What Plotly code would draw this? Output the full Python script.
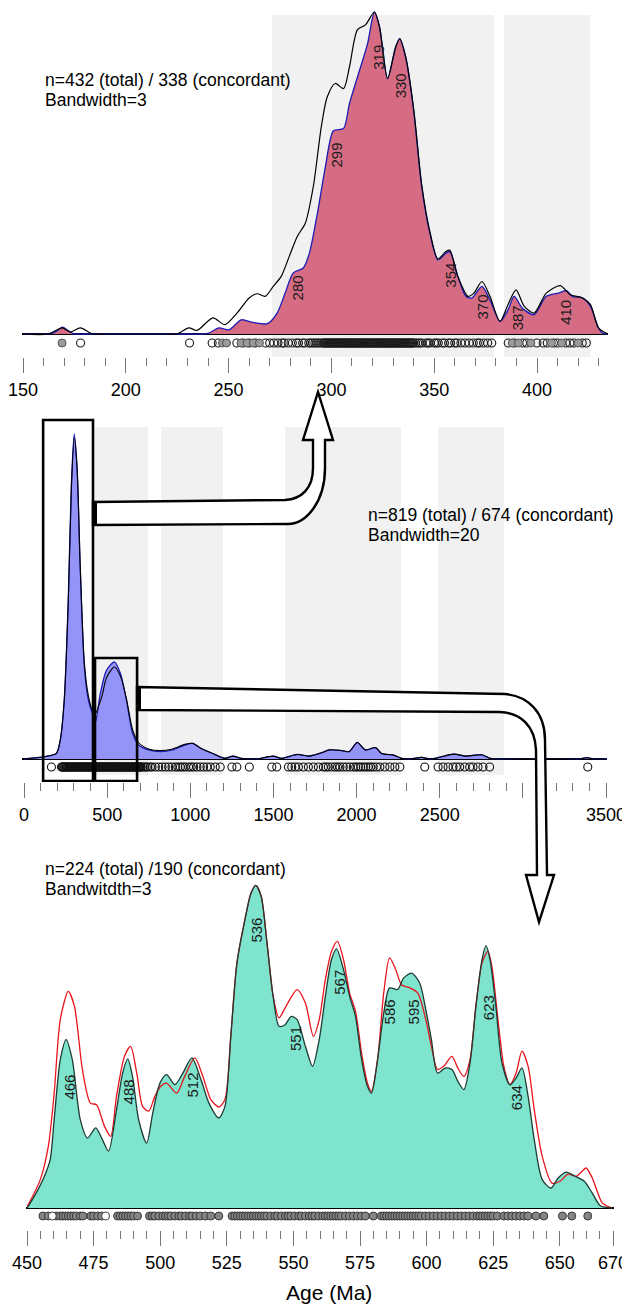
import plotly.graph_objects as go

PAGE_W, PAGE_H = 630, 1307
OFF = 8  # the page body margin shifts the figure by this much
W, H = PAGE_W - OFF, PAGE_H - OFF
FONT = "Arial, Liberation Sans, sans-serif"

# ---------------- Panel 1: 150-430 Ma, bandwidth 3 ----------------
p1_conc_age = [150, 162.3, 166.2, 169.1, 172.1, 175, 180, 200, 230, 236.5, 240.4, 245.3, 250.2, 256.1,
               261.9, 268.8, 273.6, 277.5, 281.4, 286.3, 289.3, 293.2, 297.1, 301, 305.9, 308.8, 313.7,
               317.6, 320.9, 323.4, 327.3, 331.3, 333.2, 336.1, 340, 343.9, 347.9, 351.8, 355.7, 357.6,
               361.5, 365.4, 368.4, 373.2, 377.1, 382, 385.9, 388.9, 392.8, 398.6, 404.5, 410.4, 414.3,
               417.2, 422.1, 426, 429.9, 431.8, 434.5]
p1_conc_val = [0, 0, 0.8, 2.1, 1.0, 0, 0, 0, 0, 0, 0.3, 1.9, 1.3, 4.4,
               3.6, 3.2, 6.5, 12.7, 18.9, 20.5, 25.1, 37.5, 52.0, 63.1, 63.8, 71.6, 81.9,
               90.2, 100, 95.4, 79.3, 89.2, 91.7, 86.1, 69.5, 45.8, 31.3, 23.0, 25.1, 25.6,
               17.9, 11.7, 11.2, 14.8, 10.6, 3.9, 7.5, 11.7, 8.1, 6.0, 11.7, 12.7, 13.5,
               11.7, 11.2, 8.6, 1.9, 0.3, 0]
p1_total_age = [150, 162.3, 169.1, 173, 177.9, 183.8, 190, 205, 219, 224.8, 230.7, 234.6, 242.4, 248.2,
                254.1, 260, 263.9, 267.8, 271.7, 275.6, 279.5, 283.4, 287.3, 291.2, 295.1, 298, 301.9,
                305.9, 308.8, 312.7, 316.6, 320.9, 323.4, 327.3, 331.3, 333.2, 336.1, 340, 343.9, 347.9,
                351.8, 355.7, 357.6, 361.5, 366.4, 369.3, 373.2, 377.1, 382, 385.9, 389.8, 393.8, 398.6,
                404.5, 411.3, 416.2, 422.1, 426, 429.9, 434.5]
p1_total_val = [0, 0, 1.9, 0.6, 1.9, 0, 0, 0, 0, 0, 1.9, 1.1, 5.0, 2.9,
                6.5, 11.2, 12.5, 11.7, 14.8, 17.9, 24.1, 30.3, 34.4, 45.8, 64.4, 73.7, 77.8,
                76.2, 83.0, 94.5, 96.0, 100, 95.4, 79.3, 89.2, 91.7, 86.1, 70.0, 46.5, 31.8,
                23.3, 25.6, 26.0, 17.9, 11.7, 12.7, 16.3, 11.7, 3.9, 9.1, 13.7, 8.6, 6.5,
                12.7, 15.0, 12.2, 11.2, 9.1, 1.9, 0]
p1_peaks = [280, 299, 319, 330, 354, 370, 387, 410]
p1_peak_label_h = [14.3, 55.6, 86, 77, 18.3, 8.4, 5, 6.8]
p1_bands = [(271, 379), (384, 426)]
p1_rug_filled = [169, 247, 249, 256, 259, 262, 265, 388, 391, 397, 407, 412, 420]
p1_rug_open = [178, 231, 242, 245, 254, 257, 260, 263, 268, 270, 272, 274, 276, 277, 279, 281, 283,
               284, 286, 287, 289, 290, 291, 292, 293, 294, 295, 296, 296.5, 297, 297.5, 298, 298.5,
               299, 299.5, 300, 300.5, 301, 301.5, 302, 302.5, 303, 303.5, 304, 304.5, 305, 305.5,
               306, 306.5, 307, 307.5, 308, 308.5, 309, 309.5, 310, 310.5, 311, 311.5, 312, 312.5,
               313, 313.5, 314, 314.5, 315, 315.5, 316, 316.5, 317, 317.5, 318, 318.5, 319, 319.5,
               320, 320.5, 321, 321.5, 322, 322.5, 323, 323.5, 324, 324.5, 325, 325.5, 326, 326.5,
               327, 327.5, 328, 328.5, 329, 329.5, 330, 330.5, 331, 331.5, 332, 332.5, 333, 333.5,
               334, 334.5, 335, 335.5, 336, 336.5, 337, 337.5, 338, 338.5, 339, 339.5, 340, 341,
               342, 343, 344, 346, 347, 348, 350, 351, 352, 354, 355, 357, 358, 360, 361, 363, 365,
               367, 369, 371, 372, 374, 376, 378, 386, 389, 393, 395, 400, 403, 405, 408, 410, 414,
               416, 418, 422, 424]
p1_major = [150, 200, 250, 300, 350, 400]
p1_minor = [v for v in range(160, 431, 10) if v % 50]
p1_text = ["n=432 (total) / 338 (concordant)", "Bandwidth=3"]

# ---------------- Panel 2: 0-3500 Ma, bandwidth 20 ----------------
p2_conc_age = [0, 121, 194, 218, 242, 266, 285, 302, 319, 338, 363, 387, 411, 430, 459, 496, 544, 580,
               616, 653, 689, 749, 821, 894, 967, 1015, 1063, 1135, 1208, 1256, 1304, 1401, 1498, 1546,
               1643, 1715, 1788, 1836, 1908, 1956, 2004, 2053, 2114, 2150, 2222, 2270, 2319, 2392, 2440,
               2489, 2585, 2657, 2754, 2802, 2850, 3334, 3382, 3430, 3505]
p2_conc_val = [0, 0.7, 1.7, 5.8, 18.1, 48.8, 84.6, 100, 89.8, 59.1, 28.4, 18.1, 14.0, 11.5, 20.2, 27.3,
               29.9, 26.3, 18.1, 7.9, 4.3, 2.8, 2.3, 2.8, 4.3, 4.8, 3.3, 1.7, 0.2, 0.9, 0.2, 0, 0.9, 0.2,
               1.4, 0.9, 1.9, 2.8, 2.6, 2.3, 5.1, 2.8, 3.5, 1.7, 1.2, 0.2, 0, 0.5, 0, 0.4, 1.5, 0.9, 1.3,
               0.2, 0, 0, 0.4, 0, 0]
p2_total_age = [0, 121, 194, 218, 242, 266, 285, 302, 319, 338, 363, 387, 411, 430, 450, 470, 496, 544,
                580, 616, 653, 689, 749, 821, 894, 967, 1015, 1063, 1135, 1208, 1256, 1304, 1401, 1498,
                1546, 1643, 1715, 1788, 1836, 1908, 1956, 2004, 2053, 2114, 2150, 2222, 2270, 2319, 2392,
                2440, 2489, 2585, 2657, 2754, 2802, 2850, 3334, 3382, 3430, 3505]
p2_total_val = [0, 0.7, 1.7, 5.8, 18.0, 48.0, 83.5, 99, 89.5, 59.5, 29.5, 19.5, 15.0, 14.0, 16.5, 19.5,
                25.0, 28.3, 25.5, 18.5, 9.0, 5.0, 3.1, 2.6, 3.1, 4.5, 4.8, 3.3, 1.7, 0.2, 0.9, 0.2, 0,
                0.9, 0.2, 1.4, 0.9, 1.9, 2.8, 2.6, 2.3, 5.1, 2.8, 3.5, 1.7, 1.2, 0.2, 0, 0.5, 0, 0.4,
                1.5, 0.9, 1.3, 0.2, 0, 0, 0.4, 0, 0]
p2_bands = [(427, 746), (824, 1197), (1570, 2267), (2490, 2886)]
p2_zoom_boxes = [(115, 415), (427, 680)]
p2_rug = [165, 225, 230, 235, 240, 245, 250, 255, 260, 265, 270, 275, 280, 285, 290, 295, 300, 305,
          310, 315, 320, 325, 330, 335, 340, 345, 350, 355, 360, 365, 370, 375, 380, 385, 390, 395,
          400, 405, 410, 415, 420, 425, 430, 435, 440, 445, 450, 455, 460, 465, 470, 475, 480, 485,
          490, 495, 500, 505, 510, 515, 520, 525, 530, 535, 540, 545, 550, 555, 560, 565, 570, 575,
          580, 585, 590, 595, 600, 605, 610, 615, 620, 625, 630, 635, 640, 645, 650, 655, 660, 665,
          670, 675, 680, 685, 690, 695, 700, 705, 715, 725, 735, 745, 760, 770, 790, 810, 830, 850,
          870, 890, 910, 925, 940, 955, 970, 990, 1005, 1020, 1040, 1060, 1080, 1100, 1120, 1150,
          1180, 1250, 1280, 1355, 1490, 1520, 1590, 1610, 1630, 1650, 1680, 1710, 1740, 1770, 1800,
          1815, 1830, 1850, 1870, 1885, 1900, 1920, 1940, 1960, 1980, 1995, 2010, 2025, 2040, 2055,
          2070, 2085, 2100, 2120, 2140, 2170, 2200, 2230, 2260, 2410, 2490, 2520, 2550, 2580, 2600,
          2620, 2650, 2680, 2700, 2730, 2760, 2800, 3390]
p2_major = [0, 500, 1000, 1500, 2000, 2500, 3000, 3500]
p2_labels = ["0", "500", "1000", "1500", "2000", "2500", "", "3500"]
p2_minor = [v for v in range(100, 3500, 100) if v % 500]
p2_text = ["n=819 (total) / 674 (concordant)", "Bandwidth=20"]

# ---------------- Panel 3: 450-670 Ma, bandwidth 3 ----------------
p3_conc_age = [450.1, 453.4, 456.5, 458.7, 460.2, 462.5, 464.7, 467, 470, 472.7, 475.8, 478.3, 480.6,
               483.6, 485.9, 487.8, 489.6, 491.9, 494.9, 497.2, 499.9, 502.4, 505.5, 508.5, 511.9,
               515.3, 518.3, 522, 524.3, 526.5, 528.8, 531.8, 534.1, 535.9, 537.9, 540.1, 542.4, 544.6,
               546.9, 549.2, 551.4, 554.5, 557.2, 559.7, 562, 564.3, 566.2, 568.8, 571.1, 573.3, 575.6,
               577.8, 579.3, 581.6, 583.9, 586.1, 589.1, 591.4, 594.4, 597.4, 599.7, 601.8, 604.1,
               607.1, 609.5, 611.7, 614, 616.3, 618.5, 620.8, 622.3, 623.8, 626, 628.3, 631.3, 633.6,
               635.8, 638.1, 640.4, 643.4, 646.7, 649.4, 652.4, 655.4, 659.2, 662.2, 665.2, 669.7]
p3_conc_val = [0, 4.6, 9.8, 15.0, 27.4, 46.0, 52.2, 46.0, 27.4, 21.7, 24.8, 21.2, 17.6,
               30.5, 41.8, 46.2, 40.8, 27.4, 20.1, 29.4, 38.7, 41.3, 38.2, 41.8, 46.5,
               39.8, 32.5, 27.9, 31.5, 53.2, 75.9, 89.4, 97.6, 100, 96.6, 82.1, 65.6, 56.3,
               56.8, 59.4, 58.4, 50.1, 43.9, 52.2, 65.6, 77.0, 80.3, 73.9, 65.6, 59.4, 46.0,
               37.7, 35.6, 46.0, 60.4, 68.2, 67.7, 71.3, 72.8, 69.7, 61.5, 52.2, 41.8,
               43.4, 42.9, 39.3, 36.7, 44.9, 62.5, 77.0, 81.3, 77.0, 62.5, 44.9, 38.2, 40.3,
               43.4, 34.6, 21.2, 8.8, 6.2, 9.3, 11.1, 10.0, 8.3, 4.6, 0.7, 0]
p3_total_age = [450.1, 455, 458, 460.2, 462.5, 465.5, 467.8, 470.8, 473.8, 476.1, 479.1, 481.4, 483.6,
                486.6, 488.9, 491.2, 493.4, 495.7, 498, 500.2, 502.4, 506.2, 509.2, 513, 516, 519, 522,
                524.3, 526.5, 528.8, 531.8, 534.1, 535.9, 537.9, 540.1, 542.4, 544.6, 547.2, 551.4,
                554.5, 557.5, 559.7, 562, 564.3, 566.5, 568.8, 571.1, 573.3, 575.6, 577.8, 579.3,
                581.6, 583.9, 586.1, 588.4, 590.6, 593.7, 596.7, 599.7, 601.8, 604.1, 606.4, 609.5,
                611.7, 614, 616.3, 618.5, 620.8, 623, 624.5, 626.8, 629, 631.3, 633.6, 635.8, 638.1,
                640.4, 643.4, 647.1, 650.1, 653.1, 656.1, 658.4, 659.9, 662.2, 666, 669.7]
p3_total_val = [0.5, 8.8, 19.1, 35.6, 58.4, 67.1, 62.5, 42.9, 32.5, 32.0, 25.3, 22.2, 34.6,
                47.0, 50.1, 41.8, 31.5, 30.0, 34.6, 37.7, 38.7, 35.6, 40.8, 46.5, 40.8, 33.6, 31.3,
                33.6, 53.2, 75.9, 89.4, 97.6, 100, 96.6, 82.1, 65.6, 58.9, 62.5, 67.7,
                63.5, 53.2, 58.4, 70.8, 79.5, 82.6, 77.0, 66.6, 61.0, 48.0, 38.7, 36.2,
                46.0, 66.6, 77.5, 73.9, 69.2, 68.2, 66.6, 58.4, 50.1, 42.9, 43.9, 47.0,
                43.4, 40.8, 46.0, 62.5, 75.9, 79.5, 74.9, 58.4, 43.9, 38.2, 41.8, 48.6, 43.9,
                30.5, 16.0, 7.7, 8.3, 10.5, 9.8, 11.4, 12.4, 9.3, 1.5, 0]
p3_peaks = [466, 488, 512, 536, 551, 567, 586, 595, 623, 634]
p3_peak_label_h = [37.5, 35.9, 38.0, 86.0, 52.4, 70.0, 60.7, 60.7, 62.2, 34.1]
p3_rug_filled = [456, 458, 461, 462.5, 463.5, 464.5, 465.5, 466.5, 467.5, 468.5, 470, 471, 474, 475,
                 476.5, 478, 484, 485, 486, 487, 488, 489, 490, 491.5, 496, 497, 498, 499.5, 501, 502,
                 503, 504, 505.5, 507, 508, 509.5, 511, 512, 513.5, 515, 517, 519, 522, 527, 528, 529,
                 530, 531, 532, 533, 534, 535, 536, 537, 538, 539, 540, 541.5, 543, 544, 545.5, 547,
                 548, 549, 550.5, 552, 553, 554.5, 556, 557, 558, 559.5, 561, 562, 563, 564, 565, 566,
                 567, 568, 569.5, 571, 572.5, 574, 575.5, 577, 580, 583, 584, 585, 586, 587, 588, 589,
                 590, 591, 592, 593, 594, 595, 596, 597, 598, 599.5, 601, 602.5, 604, 605.5, 607,
                 608.5, 610, 611.5, 613, 614.5, 616, 617.5, 619, 620, 621, 622, 623, 624, 625, 626.5,
                 629, 630.5, 632, 633.5, 635, 636.5, 638, 641, 644, 651, 654.5, 660.5]
p3_rug_open = [459.5, 479.5]
p3_major = [450, 475, 500, 525, 550, 575, 600, 625, 650, 670]
p3_minor = [v for v in range(455, 670, 5) if v % 25]
p3_text = ["n=224 (total) /190 (concordant)", "Bandwitdth=3"]
x_title = "Age (Ma)"

# ---------------- layout geometry (page pixels) ----------------
def fx(p):
    return (p - OFF) / W


def fy(p):
    return 1 - (p - OFF) / H


# x mapping: value v0 at page pixel px0, s px per Ma; plot domain in px; y domain px; baseline px
P1 = dict(v0=150, px0=23, s=2.056, dom=(22, 608), ytop=OFF, ybot=357, base=334, ys=3.22, rug=343)
P2 = dict(v0=0, px0=24, s=0.1663, dom=(22, 607), ytop=400, ybot=782, base=759, ys=3.25, rug=767)
P3 = dict(v0=450, px0=27, s=2.664, dom=(26, 614), ytop=860, ybot=1230, base=1208, ys=3.227, rug=1216)


def xrange_of(P):
    return [P["v0"] + (P["dom"][0] - P["px0"]) / P["s"], P["v0"] + (P["dom"][1] - P["px0"]) / P["s"]]


def yrange_of(P):
    return [-(P["ybot"] - P["base"]) / P["ys"], (P["base"] - P["ytop"]) / P["ys"]]


def yval(P, pix):
    return (P["base"] - pix) / P["ys"]


fig = go.Figure()

SPL = dict(shape="spline", smoothing=0.75)


def rug(xs, P, xa, ya, symbol, fill, line, lw=1):
    fig.add_trace(go.Scatter(x=xs, y=[yval(P, P["rug"])] * len(xs), mode="markers", xaxis=xa, yaxis=ya,
                             marker=dict(size=8, symbol=symbol, color=fill,
                                         line=dict(color=line, width=lw)),
                             showlegend=False, hoverinfo="skip"))


# Panel 1 traces
fig.add_trace(go.Scatter(x=p1_conc_age, y=p1_conc_val, fill="tozeroy", fillcolor="#d56c84",
                         line=dict(color="#1c1cb4", width=1.3, **SPL), mode="lines",
                         xaxis="x", yaxis="y", showlegend=False))
fig.add_trace(go.Scatter(x=p1_total_age, y=p1_total_val, mode="lines",
                         line=dict(color="black", width=1.2, **SPL), xaxis="x", yaxis="y",
                         showlegend=False))
rug(p1_rug_open, P1, "x", "y", "circle-open", "#1a1a1a", "#1a1a1a", 1.1)
rug(p1_rug_filled, P1, "x", "y", "circle", "#9a9a9a", "#555555")

# Panel 2 traces
fig.add_trace(go.Scatter(x=p2_conc_age, y=p2_conc_val, fill="tozeroy", fillcolor="#9494f8",
                         line=dict(color="#1c1cb4", width=1.3, **SPL), mode="lines",
                         xaxis="x2", yaxis="y2", showlegend=False))
fig.add_trace(go.Scatter(x=p2_total_age, y=p2_total_val, mode="lines",
                         line=dict(color="black", width=1.1, **SPL), xaxis="x2", yaxis="y2",
                         showlegend=False))
rug(p2_rug, P2, "x2", "y2", "circle-open", "#111111", "#111111", 1.1)

# Panel 3 traces
fig.add_trace(go.Scatter(x=p3_conc_age, y=p3_conc_val, fill="tozeroy", fillcolor="#7ee4cd",
                         line=dict(width=0, **SPL), mode="lines",
                         xaxis="x3", yaxis="y3", showlegend=False))
fig.add_trace(go.Scatter(x=p3_total_age, y=p3_total_val, mode="lines",
                         line=dict(color="#e8141c", width=1.3, **SPL), xaxis="x3", yaxis="y3",
                         showlegend=False))
fig.add_trace(go.Scatter(x=p3_conc_age, y=p3_conc_val, mode="lines",
                         line=dict(color="#1e3a32", width=1.3, **SPL), xaxis="x3", yaxis="y3",
                         showlegend=False))
rug(p3_rug_filled, P3, "x3", "y3", "circle", "#858585", "#3a3a3a")
rug(p3_rug_open, P3, "x3", "y3", "circle", "white", "#444444")

# overlay pixel axis for the drawn arrows
fig.add_trace(go.Scatter(x=[OFF], y=[OFF], mode="markers", marker=dict(opacity=0), xaxis="x4", yaxis="y4",
                         showlegend=False, hoverinfo="skip"))

TICKFONT = dict(family=FONT, size=18, color="black")


def xaxis_cfg(P, major, labels, minor):
    return dict(domain=[fx(P["dom"][0]), fx(P["dom"][1])], range=xrange_of(P), showgrid=False,
                zeroline=False, showline=False, ticks="outside", ticklen=15, tickwidth=1,
                tickcolor="#777777", tickmode="array", tickvals=major, ticktext=labels,
                tickfont=TICKFONT, ticklabelstandoff=1, automargin=False, ticklabeloverflow="allow",
                minor=dict(tickmode="array", tickvals=minor, ticks="outside", ticklen=8,
                           tickwidth=1, tickcolor="#777777", showgrid=False))


def yaxis_cfg(P, xa):
    return dict(domain=[fy(P["ybot"]), fy(P["ytop"])], range=yrange_of(P), showgrid=False,
                showticklabels=False, ticks="", showline=False, zeroline=True, automargin=False,
                zerolinecolor="black", zerolinewidth=1.6, anchor=xa)


fig.update_layout(
    width=W, height=H, margin=dict(l=0, r=0, t=0, b=0, pad=0),
    paper_bgcolor="white", plot_bgcolor="rgba(0,0,0,0)", showlegend=False,
    font=dict(family=FONT, color="black"),
    xaxis=dict(xaxis_cfg(P1, p1_major, [str(v) for v in p1_major], p1_minor), anchor="y"),
    yaxis=yaxis_cfg(P1, "x"),
    xaxis2=dict(xaxis_cfg(P2, p2_major, p2_labels, p2_minor), anchor="y2"),
    yaxis2=yaxis_cfg(P2, "x2"),
    xaxis3=dict(xaxis_cfg(P3, p3_major, [str(v) for v in p3_major], p3_minor), anchor="y3"),
    yaxis3=yaxis_cfg(P3, "x3"),
    xaxis4=dict(domain=[0, 1], range=[OFF, PAGE_W], visible=False, fixedrange=True, anchor="y4"),
    yaxis4=dict(domain=[0, 1], range=[PAGE_H, OFF], visible=False, fixedrange=True, anchor="x4"),
)

shapes = []
# grey age bands
for a, b in p1_bands:
    shapes.append(dict(type="rect", xref="x", yref="y", x0=a, x1=b, y0=yval(P1, 357),
                       y1=yval(P1, 15), fillcolor="#f1f1f1", line=dict(width=0), layer="below"))
for a, b in p2_bands:
    shapes.append(dict(type="rect", xref="x2", yref="y2", x0=a, x1=b, y0=yval(P2, 775),
                       y1=yval(P2, 427), fillcolor="#f1f1f1", line=dict(width=0), layer="below"))
# zoom boxes in the middle panel
box_tops = [420, 658]
for (a, b), top in zip(p2_zoom_boxes, box_tops):
    shapes.append(dict(type="rect", xref="x2", yref="y2", x0=a, x1=b, y0=yval(P2, 781),
                       y1=yval(P2, top), line=dict(color="black", width=2.6), layer="above"))

# hollow arrows (page-pixel coordinates on overlay axis)
arrow1 = ("M 93 502 L 285 500 C 302 499 313 488 313 468 L 313 440 L 303 440 L 318 392 L 333 440 "
          "L 325 440 L 325 468 C 325 502 306 524 288 524 L 93 525 Z")
arrow2 = ("M 137 687 L 505 694 C 528 696 545 712 545 740 L 547 875 L 554 875 L 539 922 L 526 875 "
          "L 537 875 L 536 750 C 535 726 521 713 500 712 L 137 710 Z")
for pth in (arrow1, arrow2):
    shapes.append(dict(type="path", xref="x4", yref="y4", path=pth, fillcolor="white",
                       line=dict(color="black", width=2.4), layer="above"))
for x0, y0, y1 in ((92, 502, 525), (136, 687, 710)):
    shapes.append(dict(type="rect", xref="x4", yref="y4", x0=x0, x1=x0 + 5, y0=y0, y1=y1,
                       fillcolor="black", line=dict(width=0), layer="above"))
fig.update_layout(shapes=shapes)

ann = []
TXT = dict(family=FONT, size=17.5, color="black")
for (x, y0), lines in (((43, 80), p1_text), ((366, 515), p2_text), ((43, 869), p3_text)):
    for i, t in enumerate(lines):
        ann.append(dict(text=t, xref="paper", yref="paper", x=fx(x), y=fy(y0 + 20 * i),
                        xanchor="left", yanchor="middle", showarrow=False, font=TXT))
PK = dict(family=FONT, size=15, color="#1a1a1a")
for p, h in zip(p1_peaks, p1_peak_label_h):
    ann.append(dict(text=str(p), x=p + 3.5, y=h, xref="x", yref="y", textangle=-90,
                    showarrow=False, font=PK, xanchor="center", yanchor="middle"))
for p, h in zip(p3_peaks, p3_peak_label_h):
    ann.append(dict(text=str(p), x=p, y=h, xref="x3", yref="y3", textangle=-90,
                    showarrow=False, font=PK, xanchor="center", yanchor="middle"))
ann.append(dict(text=x_title, xref="paper", yref="paper", x=fx(329), y=fy(1292), showarrow=False,
                font=dict(family=FONT, size=21, color="black"), xanchor="center", yanchor="middle"))
fig.update_layout(annotations=ann)

fig.write_html("out.html")
